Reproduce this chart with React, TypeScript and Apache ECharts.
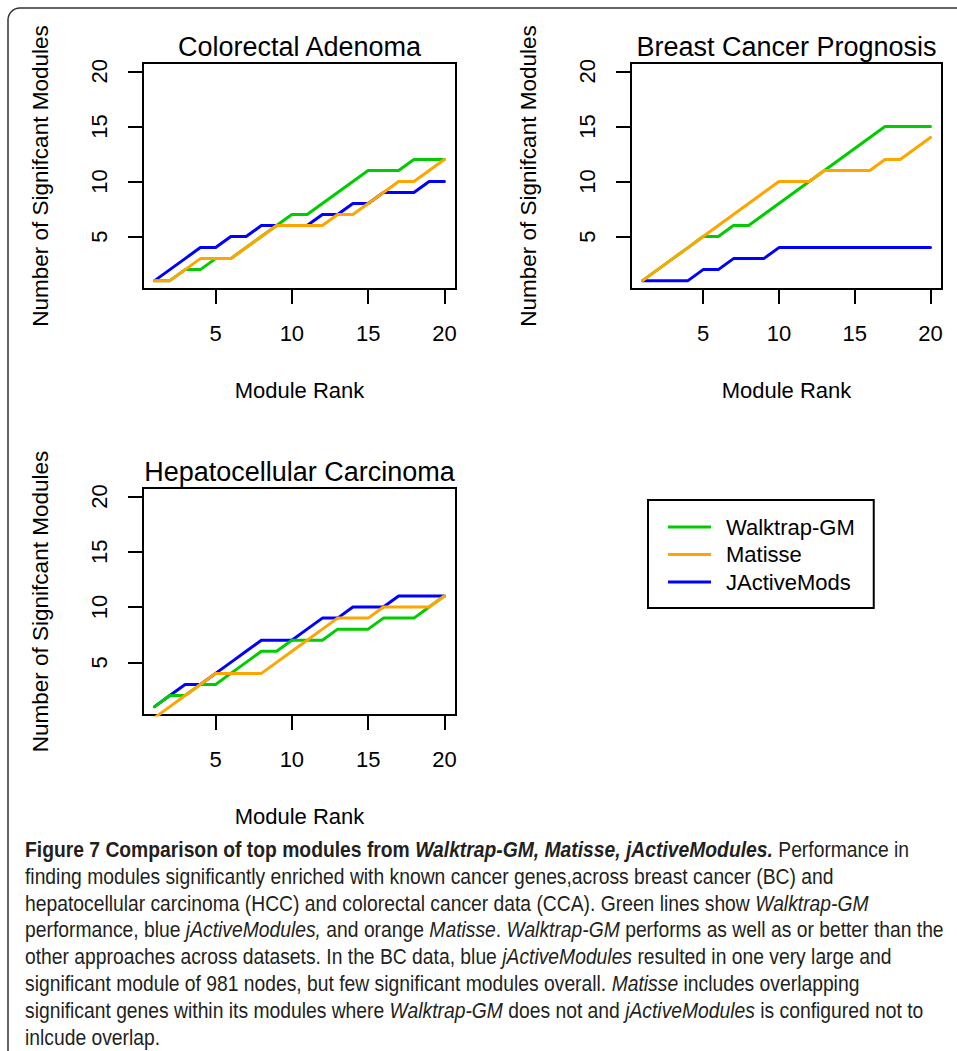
import React, { useEffect, useRef } from "react";
import * as echarts from "echarts";

// ---------- data ----------
const ranks = [1, 2, 3, 4, 5, 6, 7, 8, 9, 10, 11, 12, 13, 14, 15, 16, 17, 18, 19, 20];
const xTickValues = [5, 10, 15, 20];
const yTickValues = [5, 10, 15, 20];
const methods = ["Walktrap-GM", "Matisse", "JActiveMods"];
const methodColors = ["#00CD00", "#FFA500", "#0000FF"];
const panelTitles = ["Colorectal Adenoma", "Breast Cancer Prognosis", "Hepatocellular Carcinoma"];
const xAxisTitle = "Module Rank";
const yAxisTitle = "Number of Signifcant Modules";

// Colorectal Adenoma
const caWalktrap = [1, 1, 2, 2, 3, 3, 4, 5, 6, 7, 7, 8, 9, 10, 11, 11, 11, 12, 12, 12];
const caMatisse = [1, 1, 2, 3, 3, 3, 4, 5, 6, 6, 6, 6, 7, 7, 8, 9, 10, 10, 11, 12];
const caJActive = [1, 2, 3, 4, 4, 5, 5, 6, 6, 6, 6, 7, 7, 8, 8, 9, 9, 9, 10, 10];
// Breast Cancer Prognosis
const bcWalktrap = [1, 2, 3, 4, 5, 5, 6, 6, 7, 8, 9, 10, 11, 12, 13, 14, 15, 15, 15, 15];
const bcMatisse = [1, 2, 3, 4, 5, 6, 7, 8, 9, 10, 10, 10, 11, 11, 11, 11, 12, 12, 13, 14];
const bcJActive = [1, 1, 1, 1, 2, 2, 3, 3, 3, 4, 4, 4, 4, 4, 4, 4, 4, 4, 4, 4];
// Hepatocellular Carcinoma
const hccWalktrap = [1, 2, 2, 3, 3, 4, 5, 6, 6, 7, 7, 7, 8, 8, 8, 9, 9, 9, 10, 11];
const hccMatisse = [0, 1, 2, 3, 4, 4, 4, 4, 5, 6, 7, 8, 9, 9, 9, 10, 10, 10, 10, 11];
const hccJActive = [1, 2, 3, 3, 4, 5, 6, 7, 7, 7, 8, 9, 9, 10, 10, 10, 11, 11, 11, 11];

const panelData = [
  [caWalktrap, caMatisse, caJActive],
  [bcWalktrap, bcMatisse, bcJActive],
  [hccWalktrap, hccMatisse, hccJActive],
];

// caption (segments: style key, text)
const captionLines: Array<Array<[string, string]>> = [
  [["b", "Figure 7 Comparison of top modules from "], ["bi", "Walktrap-GM, Matisse, jActiveModules."], ["n", " Performance in"]],
  [["n", "finding modules significantly enriched with known cancer genes,across breast cancer (BC) and"]],
  [["n", "hepatocellular carcinoma (HCC) and colorectal cancer data (CCA). Green lines show "], ["i", "Walktrap-GM"]],
  [["n", "performance, blue "], ["i", "jActiveModules,"], ["n", " and orange "], ["i", "Matisse"], ["n", ". "], ["i", "Walktrap-GM"], ["n", " performs as well as or better than the"]],
  [["n", "other approaches across datasets. In the BC data, blue "], ["i", "jActiveModules"], ["n", " resulted in one very large and"]],
  [["n", "significant module of 981 nodes, but few significant modules overall. "], ["i", "Matisse"], ["n", " includes overlapping"]],
  [["n", "significant genes within its modules where "], ["i", "Walktrap-GM"], ["n", " does not and "], ["i", "jActiveModules"], ["n", " is configured not to"]],
  [["n", "inlcude overlap."]],
];

// ---------- layout ----------
const FONT = '"Liberation Sans", Arial, Helvetica, sans-serif';
const grids = [
  { left: 143, top: 63, width: 313, height: 226 },
  { left: 631, top: 63, width: 311, height: 226 },
  { left: 143, top: 488, width: 313, height: 227 },
];
const AX_MIN = 0.24;
const AX_MAX = 20.76;

function measureSegments(segs: Array<[string, string]>, size: number) {
  const c = document.createElement("canvas").getContext("2d");
  if (!c) return 1000;
  let w = 0;
  for (const [k, t] of segs) {
    const italic = k === "i" || k === "bi" ? "italic " : "";
    const bold = k === "b" || k === "bi" ? "bold " : "";
    c.font = `${italic}${bold}${size}px ${FONT}`;
    w += c.measureText(t).width;
  }
  return w;
}

export default function App() {
  const ref = useRef<HTMLDivElement>(null);
  useEffect(() => {
    if (!ref.current) return;
    const chart = echarts.init(ref.current, undefined, { renderer: "svg" });

    const series: any[] = [];
    const drawOrder = [2, 0, 1]; // blue under, green, orange on top
    panelData.forEach((arrs, p) => {
      drawOrder.forEach((m) => {
        series.push({
          type: "line",
          name: methods[m],
          xAxisIndex: p,
          yAxisIndex: p,
          data: ranks.map((r, j) => [r, arrs[m][j]]),
          symbol: "none",
          showSymbol: false,
          silent: true,
          clip: true,
          color: methodColors[m],
          itemStyle: { color: methodColors[m] },
          lineStyle: { width: 3, color: methodColors[m], cap: "round", join: "round" },
        });
      });
    });

    const xAxes = grids.map((_, i) => ({
      type: "value",
      gridIndex: i,
      min: AX_MIN,
      max: AX_MAX,
      axisLine: { show: false },
      splitLine: { show: false },
      axisTick: { show: true, length: 15, customValues: xTickValues, lineStyle: { color: "#000", width: 2 } },
      axisLabel: { customValues: xTickValues, fontSize: 22, color: "#000", margin: 33, fontFamily: FONT, lineHeight: 22 },
      name: xAxisTitle,
      nameLocation: "middle",
      nameGap: 90,
      nameTextStyle: { fontSize: 22, color: "#000", fontFamily: FONT, lineHeight: 22 },
    }));
    const yAxes = grids.map((_, i) => ({
      type: "value",
      gridIndex: i,
      min: AX_MIN,
      max: AX_MAX,
      axisLine: { show: false },
      splitLine: { show: false },
      axisTick: { show: true, length: 15, customValues: yTickValues, lineStyle: { color: "#000", width: 2 } },
      axisLabel: { customValues: yTickValues, fontSize: 22, color: "#000", margin: 33, rotate: 90, fontFamily: FONT, lineHeight: 22 },
      name: yAxisTitle,
      nameLocation: "middle",
      nameGap: 92,
      nameTextStyle: { fontSize: 22.5, color: "#000", fontFamily: FONT, lineHeight: 22 },
    }));

    const titleSize = 27;
    const titleEls = panelTitles.map((t, i) => ({
      type: "text",
      x: grids[i].left + grids[i].width / 2,
      y: grids[i].top - 6 - titleSize * 0.36,
      silent: true,
      style: { text: t, fontSize: titleSize, fontFamily: FONT, fill: "#000", align: "center", verticalAlign: "middle" },
    }));

    const capSize = 22;
    const capWidth = measureSegments(captionLines[3], capSize);
    const capScale = 919 / capWidth;
    const rich = {
      n: { fontSize: capSize, fontFamily: FONT, fill: "#231f20" },
      i: { fontSize: capSize, fontFamily: FONT, fontStyle: "italic", fill: "#231f20" },
      b: { fontSize: capSize, fontFamily: FONT, fontWeight: "bold", fill: "#231f20" },
      bi: { fontSize: capSize, fontFamily: FONT, fontWeight: "bold", fontStyle: "italic", fill: "#231f20" },
    };
    const captionEls = captionLines.map((segs, i) => ({
      type: "text",
      x: 25,
      y: 849 + i * 26.8,
      scaleX: capScale,
      silent: true,
      style: {
        text: segs.map(([k, t]) => `{${k}|${t}}`).join(""),
        rich,
        verticalAlign: "middle",
        align: "left",
        fill: "#231f20",
      },
    }));

    const option: any = {
      animation: false,
      backgroundColor: "#fff",
      textStyle: { fontFamily: FONT },
      grid: grids.map((g) => ({
        ...g,
        show: true,
        borderColor: "#000",
        borderWidth: 2,
        backgroundColor: "transparent",
        containLabel: false,
      })),
      xAxis: xAxes,
      yAxis: yAxes,
      legend: {
        data: methods,
        orient: "vertical",
        left: 648,
        top: 500,
        padding: [16, 19, 15, 20],
        itemWidth: 43,
        itemHeight: 3,
        itemGap: 5.5,
        icon: "rect",
        borderColor: "#000",
        borderWidth: 2,
        selectedMode: false,
        textStyle: { fontSize: 22, color: "#000", fontFamily: FONT, lineHeight: 22, padding: [0, 0, 0, 10] },
      },
      graphic: [
        {
          type: "rect",
          silent: true,
          shape: { x: 8, y: 8, width: 1300, height: 1300, r: 12 },
          style: { fill: "none", stroke: "#333", lineWidth: 1.5 },
        },
        ...titleEls,
        ...captionEls,
      ],
      series,
    };
    chart.setOption(option);
    return () => chart.dispose();
  }, []);
  return <div ref={ref} style={{ position: "absolute", left: 0, top: 0, width: 957, height: 1051 }} />;
}
